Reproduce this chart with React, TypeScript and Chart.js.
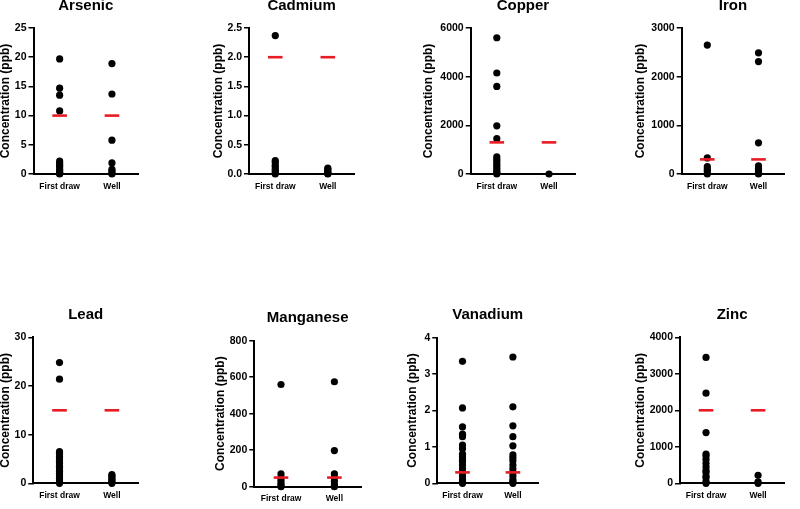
import React, { useEffect, useRef } from 'react';
import { Chart, registerables } from 'chart.js';

Chart.register(...registerables);
Chart.defaults.font.family = '"Liberation Sans", Arial, sans-serif';
Chart.defaults.color = '#000';

const categories = ['First draw', 'Well'];

const arsenicFirst = [19.7, 14.7, 13.5, 10.8, 2.2, 1.8, 1.5, 1.2, 0.8, 0.5, 0.3, 0.1, 0];
const arsenicWell = [18.9, 13.7, 5.8, 1.9, 0.8, 0.5, 0.2, 0];
const arsenicLimit = 10;

const cadmiumFirst = [2.37, 0.23, 0.2, 0.15, 0.12, 0.08, 0.05, 0.02, 0];
const cadmiumWell = [0.1, 0.08, 0.05, 0.03, 0.01, 0];
const cadmiumLimit = 2;

const copperFirst = [5600, 4150, 3600, 1980, 1450, 700, 600, 500, 400, 300, 200, 100, 50, 0];
const copperWell = [0];
const copperLimit = 1300;

const ironFirst = [2650, 330, 150, 100, 50, 0];
const ironWell = [2490, 2310, 640, 170, 120, 80, 30, 0];
const ironLimit = 300;

const leadFirst = [24.8, 21.4, 6.5, 6.2, 5.5, 5, 4.5, 4, 3.5, 3, 2.5, 2, 1.5, 1, 0.5, 0.2, 0];
const leadWell = [1.8, 1.5, 1.2, 0.8, 0.5, 0.2, 0];
const leadLimit = 15;

const manganeseFirst = [560, 70, 50, 35, 20, 10, 0];
const manganeseWell = [575, 198, 70, 50, 30, 10, 0];
const manganeseLimit = 50;

const vanadiumFirst = [3.35, 2.07, 1.55, 1.35, 1.28, 1.05, 0.95, 0.8, 0.72, 0.65, 0.6, 0.5, 0.4, 0.3, 0.2, 0.1, 0.05, 0];
const vanadiumWell = [3.47, 2.1, 1.58, 1.28, 1.03, 0.78, 0.7, 0.62, 0.5, 0.4, 0.3, 0.2, 0.1, 0.05, 0];
const vanadiumLimit = 0.3;

const zincFirst = [3450, 2470, 1390, 800, 750, 650, 550, 450, 350, 300, 200, 150, 50, 0];
const zincWell = [220, 40, 0];
const zincLimit = 2000;

const yAxisTitle = 'Concentration (ppb)';

const panels = [
  { title: 'Arsenic', first: arsenicFirst, well: arsenicWell, limit: arsenicLimit, yMax: 25, yStep: 5, decimals: 0 },
  { title: 'Cadmium', first: cadmiumFirst, well: cadmiumWell, limit: cadmiumLimit, yMax: 2.5, yStep: 0.5, decimals: 1 },
  { title: 'Copper', first: copperFirst, well: copperWell, limit: copperLimit, yMax: 6000, yStep: 2000, decimals: 0 },
  { title: 'Iron', first: ironFirst, well: ironWell, limit: ironLimit, yMax: 3000, yStep: 1000, decimals: 0 },
  { title: 'Lead', first: leadFirst, well: leadWell, limit: leadLimit, yMax: 30, yStep: 10, decimals: 0 },
  { title: 'Manganese', first: manganeseFirst, well: manganeseWell, limit: manganeseLimit, yMax: 800, yStep: 200, decimals: 0 },
  { title: 'Vanadium', first: vanadiumFirst, well: vanadiumWell, limit: vanadiumLimit, yMax: 4, yStep: 1, decimals: 0 },
  { title: 'Zinc', first: zincFirst, well: zincWell, limit: zincLimit, yMax: 4000, yStep: 1000, decimals: 0 },
];

// panel geometry (page px): y-axis x, right end, chart top, chart bottom, y-title centre x, title centre y
const geometry = [
  { axisX: 33.5, right: 147.7, top: 28, bottom: 174, yTitleX: 6.3, titleY: 6 },
  { axisX: 249, right: 364, top: 28, bottom: 174, yTitleX: 219, titleY: 6 },
  { axisX: 470.7, right: 585, top: 28, bottom: 174, yTitleX: 429.2, titleY: 6 },
  { axisX: 681.7, right: 794, top: 28, bottom: 174, yTitleX: 641, titleY: 6 },
  { axisX: 33.3, right: 147.7, top: 337.3, bottom: 483.3, yTitleX: 5.8, titleY: 315 },
  { axisX: 254.3, right: 371, top: 340.7, bottom: 486.7, yTitleX: 221, titleY: 318 },
  { axisX: 437.3, right: 547.7, top: 337.7, bottom: 483.3, yTitleX: 412.7, titleY: 315 },
  { axisX: 680, right: 794, top: 337.3, bottom: 483.3, yTitleX: 641, titleY: 315 },
];

const TITLE_SIZE = 15;
const TITLE_LH = 1.2;
const Y_TITLE_SIZE = 12;

function Panel({ p, g }: { p: any; g: any }) {
  const ref = useRef<HTMLCanvasElement>(null);
  const left = Math.round(g.yTitleX - Y_TITLE_SIZE / 2);
  const top = Math.round(g.titleY - (TITLE_SIZE * TITLE_LH) / 2);
  const width = Math.round(g.right - left);
  const xh = 22;
  const height = Math.round(g.bottom - top + xh);
  const yw = g.axisX - left;
  const titleGap = g.top - top - TITLE_SIZE * TITLE_LH;
  const xAxisH = height - (g.bottom - top);

  useEffect(() => {
    if (!ref.current) return;
    const chart = new Chart(ref.current, {
      type: 'scatter',
      data: {
        datasets: [
          {
            label: 'limit',
            data: [0, 1].map((i) => ({ x: i, y: p.limit })),
            pointStyle: 'line',
            pointRadius: 7.3,
            borderColor: 'rgb(232,28,36)',
            borderWidth: 2.6,
            backgroundColor: 'rgb(232,28,36)',
            clip: false,
          },
          {
            label: categories[0],
            data: p.first.map((v: number) => ({ x: 0, y: v })),
            pointStyle: 'circle',
            pointRadius: 3.6,
            borderWidth: 0,
            backgroundColor: '#000',
            clip: false,
          },
          {
            label: categories[1],
            data: p.well.map((v: number) => ({ x: 1, y: v })),
            pointStyle: 'circle',
            pointRadius: 3.6,
            borderWidth: 0,
            backgroundColor: '#000',
            clip: false,
          },
        ],
      },
      options: {
        responsive: false,
        animation: false,
        events: [],
        layout: { padding: 0 },
        plugins: {
          legend: { display: false },
          tooltip: { enabled: false },
          title: {
            display: true,
            text: p.title,
            fullSize: false,
            color: '#000',
            font: { size: TITLE_SIZE, weight: 'bold', lineHeight: TITLE_LH },
            padding: { top: 0, bottom: titleGap },
          },
        },
        scales: {
          x: {
            type: 'linear',
            min: -0.5,
            max: 1.5,
            afterBuildTicks: (s: any) => {
              s.ticks = [{ value: 0 }, { value: 1 }];
            },
            afterFit: (s: any) => {
              s.height = xAxisH;
            },
            grid: { display: false, drawTicks: false },
            border: { display: true, color: '#000', width: 2 },
            ticks: {
              padding: 7.2,
              color: '#000',
              font: { size: 8.5, weight: 'bold' },
              maxRotation: 0,
              autoSkip: false,
              callback: (v: any) => categories[Math.round(Number(v))],
            },
          },
          y: {
            min: 0,
            max: p.yMax,
            afterFit: (s: any) => {
              s.width = yw;
            },
            grid: {
              display: true,
              drawOnChartArea: false,
              drawTicks: true,
              tickLength: 5,
              color: '#000',
              lineWidth: 1.5,
            },
            border: { display: true, color: '#000', width: 2 },
            ticks: {
              stepSize: p.yStep,
              padding: 2,
              color: '#000',
              font: { size: 10.5, weight: 'bold' },
              callback: (v: any) => Number(v).toFixed(p.decimals),
            },
            title: {
              display: true,
              text: yAxisTitle,
              color: '#000',
              padding: 0,
              font: { size: Y_TITLE_SIZE, weight: 'bold', lineHeight: 1 },
            },
          },
        },
      } as any,
    });
    return () => chart.destroy();
  }, []);

  return (
    <canvas
      ref={ref}
      width={width}
      height={height}
      style={{ position: 'absolute', left, top, width, height }}
    />
  );
}

export default function App() {
  return (
    <div style={{ position: 'absolute', left: 0, top: 0, width: 800, height: 509, background: '#fff', overflow: 'hidden' }}>
      {panels.map((p, i) => (
        <Panel key={p.title} p={p} g={geometry[i]} />
      ))}
    </div>
  );
}
